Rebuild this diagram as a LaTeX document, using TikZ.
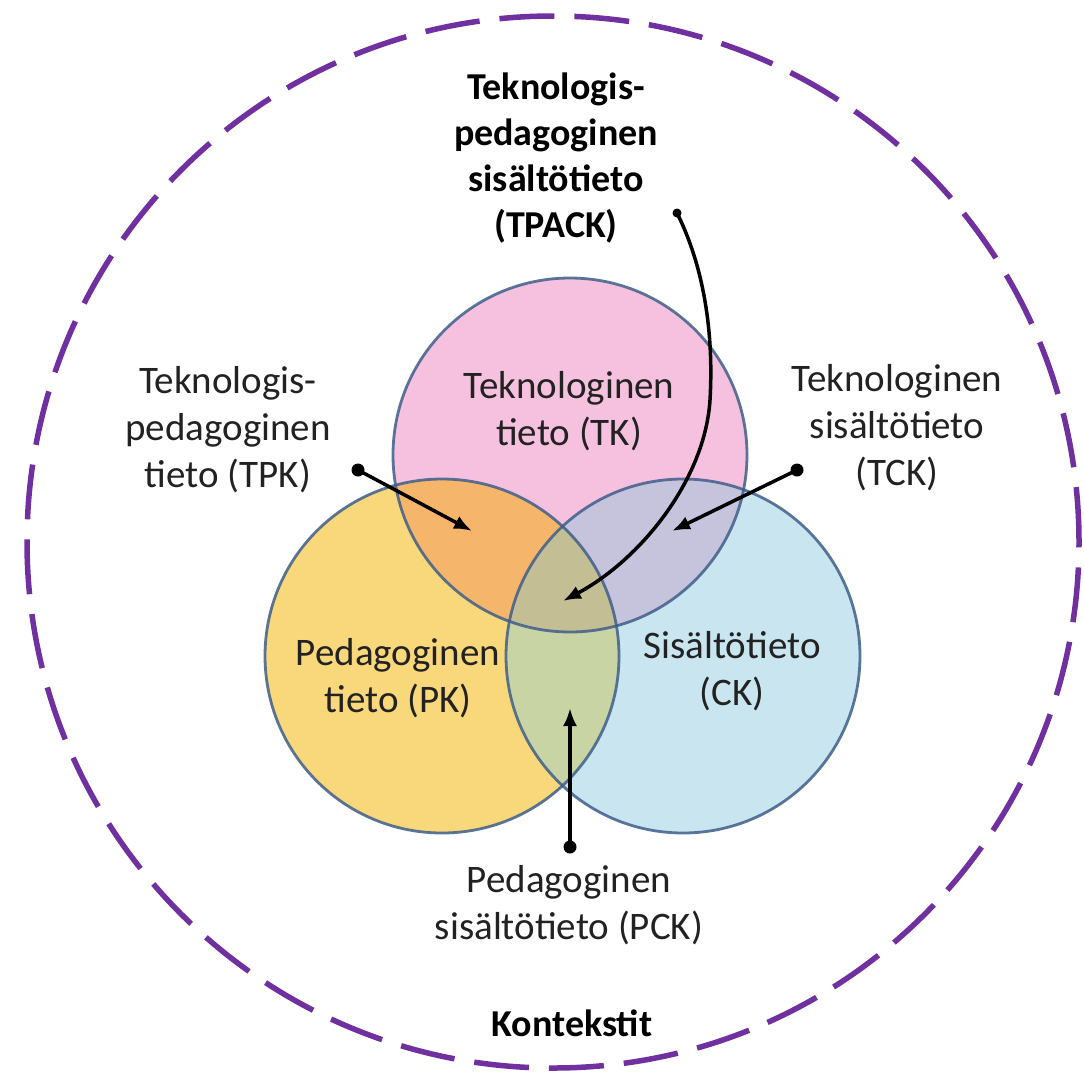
\documentclass[tikz,border=0pt]{standalone}
\usepackage{fontspec}
\setmainfont{Carlito}
\usetikzlibrary{arrows.meta}
\definecolor{ctxpurple}{HTML}{7030A0}
\definecolor{tkfill}{HTML}{F6C1DE}
\definecolor{pkfill}{HTML}{F9D77B}
\definecolor{ckfill}{HTML}{C9E5EF}
\definecolor{tpkfill}{HTML}{F5B66C}
\definecolor{tckfill}{HTML}{C6C3DC}
\definecolor{pckfill}{HTML}{C9D4A5}
\definecolor{tpackfill}{HTML}{C4BE94}
\definecolor{edge}{HTML}{3F5F8A}
\definecolor{textc}{HTML}{222222}
\begin{document}
\begin{tikzpicture}[x=1pt,y=-1pt,
  lbl/.style={font=\fontsize{39}{47}\selectfont, align=center, text=textc, inner sep=0pt},
  blbl/.style={font=\fontsize{38}{46}\selectfont\bfseries, align=center, text=black, inner sep=0pt},
  dotnode/.style={circle, fill=black, inner sep=0pt, minimum size=13pt},
  smalldot/.style={circle, fill=black, inner sep=0pt, minimum size=9pt},
  arr/.style={line width=3.5pt, draw=black, -{Latex[length=18pt,width=14pt]}},
  ring/.style={draw=edge, line width=2.8pt, draw opacity=0.85}]
\fill[white] (0,0) rectangle (1084,1080);
\useasboundingbox (0,0) rectangle (1084,1080);
% context
\draw[ctxpurple, line width=5.5pt, dash pattern=on 55pt off 20pt] (553,542) circle[radius=526pt];
% circle centres
\coordinate (cTK) at (570,455);
\coordinate (cPK) at (442,656);
\coordinate (cCK) at (683,656);
% fills
\fill[tkfill] (cTK) circle[radius=177pt];
\fill[pkfill] (cPK) circle[radius=177pt];
\fill[ckfill] (cCK) circle[radius=177pt];
\begin{scope}
  \clip (cTK) circle[radius=177pt];
  \fill[tpkfill] (cPK) circle[radius=177pt];
  \fill[tckfill] (cCK) circle[radius=177pt];
  \clip (cPK) circle[radius=177pt];
  \fill[tpackfill] (cCK) circle[radius=177pt];
\end{scope}
\begin{scope}
  \clip (cPK) circle[radius=177pt];
  \clip (cCK) circle[radius=177pt];
  \fill[pckfill, even odd rule] (0,0) rectangle (1084,1080) (cTK) circle[radius=177pt];
\end{scope}
% borders
\draw[ring] (cTK) circle[radius=177pt];
\draw[ring] (cPK) circle[radius=177pt];
\draw[ring] (cCK) circle[radius=177pt];
% labels
\node[lbl] (tk) at (569,411) {Teknologinen\\tieto (TK)};
\node[lbl] (pk) at (398,678) {Pedagoginen\\tieto (PK)};
\node[lbl] (ck) at (732,671) {Sisältötieto\\(CK)};
\node[lbl] (tpk) at (228,430) {Teknologis-\\pedagoginen\\tieto (TPK)};
\node[lbl] (tck) at (897,428) {Teknologinen\\sisältötieto\\(TCK)};
\node[lbl] (pck) at (569,905) {Pedagoginen\\sisältötieto (PCK)};
\node[blbl] (tpack) at (556,158) {Teknologis-\\pedagoginen\\sisältötieto\\(TPACK)};
\node[blbl] (ctx) at (572,1023) {Kontekstit};
% connectors
\node[dotnode] (dTPK) at (358,470) {};
\node[dotnode] (dTCK) at (797,470) {};
\node[dotnode] (dPCK) at (570,847) {};
\node[smalldot] (dTPACK) at (677,213) {};
\coordinate (aTPK) at (472,531);
\coordinate (aTCK) at (672,531);
\coordinate (aPCK) at (570,708);
\coordinate (aTPACK) at (563,601);
\draw[arr] (dTPK.center) -- (aTPK);
\draw[arr] (dTCK.center) -- (aTCK);
\draw[arr] (dPCK.center) -- (aPCK);
\draw[arr] (dTPACK.center) .. controls (703,265) and (714,330) .. (710,400) .. controls (705,480) and (640,560) .. (aTPACK);
\end{tikzpicture}
\end{document}
